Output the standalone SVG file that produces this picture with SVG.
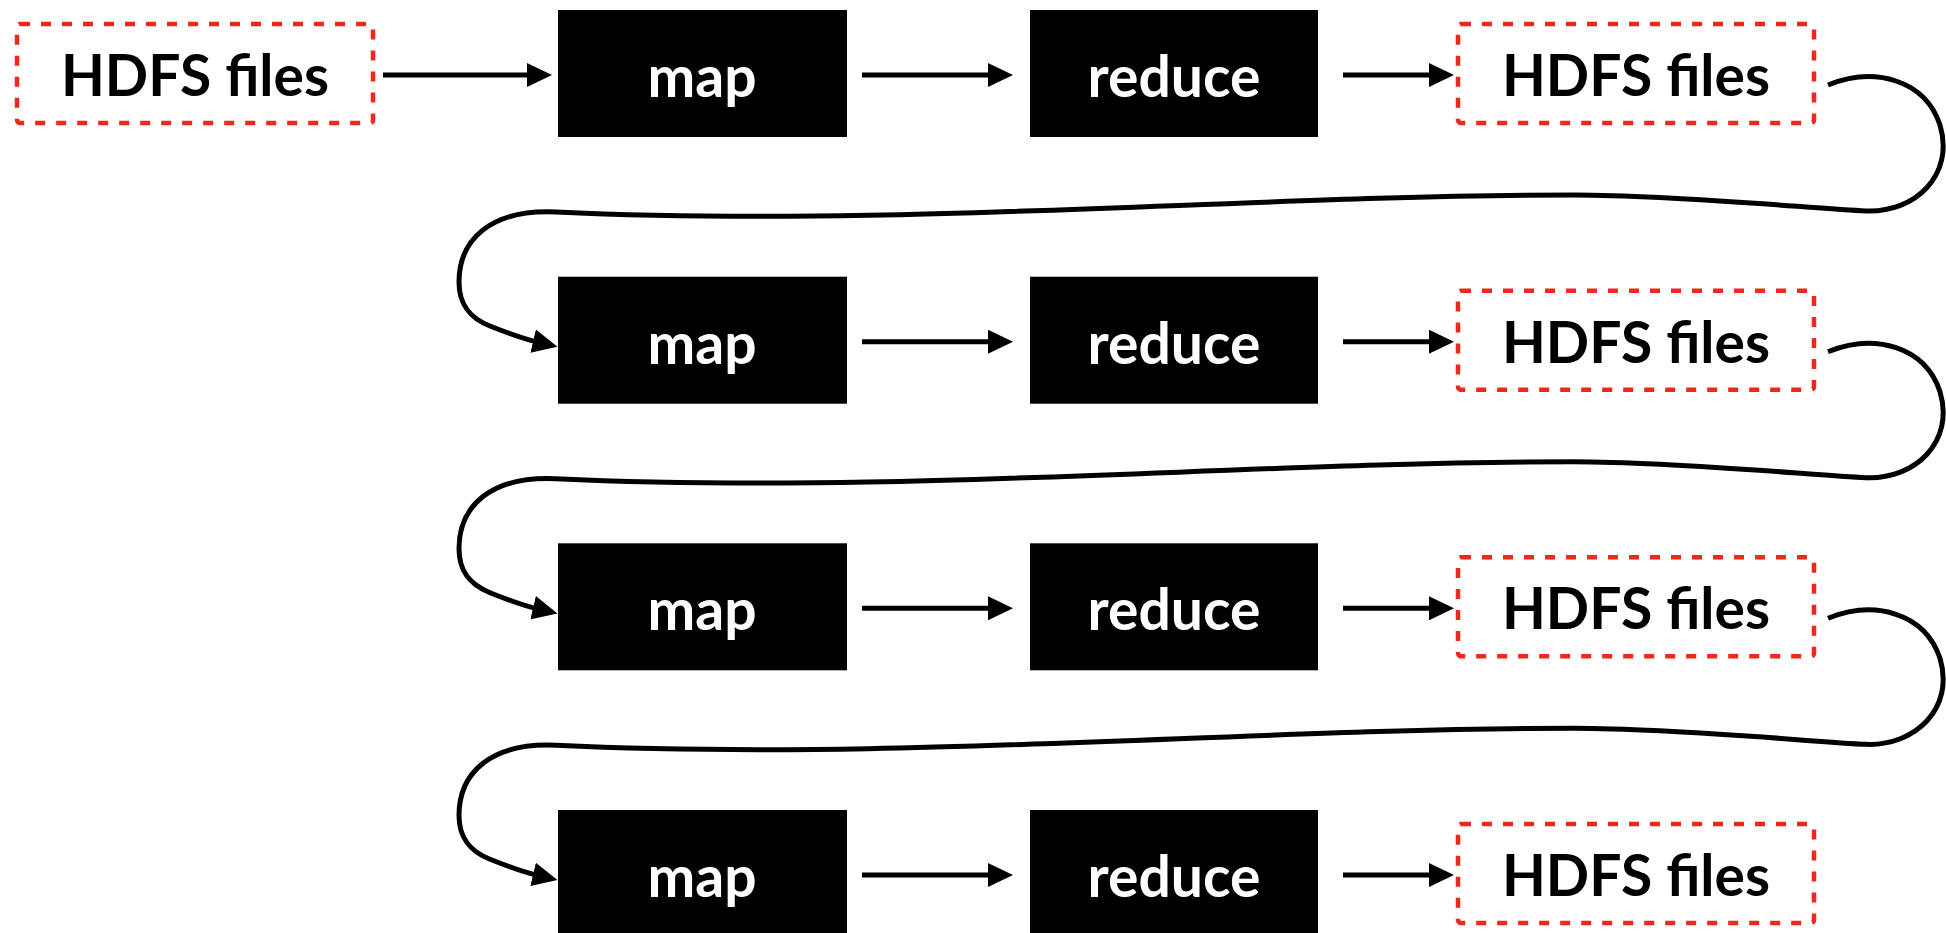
<svg xmlns="http://www.w3.org/2000/svg" width="1946" height="933" viewBox="0 0 1946 933">
<style>
.hdfs{fill:none;stroke:#f0271b;stroke-width:4.5;stroke-dasharray:10 11}
.blk{fill:#000}
.t{font-family:Lato,"Open Sans","Liberation Sans",sans-serif;font-weight:bold;font-size:57px;text-anchor:middle}
.tw{fill:#fff}
.tb{fill:#000}
.c{fill:none;stroke:#000;stroke-width:5;marker-end:url(#ah)}
</style>
<defs>
<marker id="ah" markerUnits="userSpaceOnUse" viewBox="0 0 25 24" markerWidth="25" markerHeight="24" refX="4" refY="12" orient="auto">
<path d="M0,0 L25,12 L0,24 Z" fill="#000"/>
</marker>
<path id="loop" class="c" d="M1828,85 C1875,66 1925,80 1940,125 C1955,175 1915,213 1866,211 C1817,209 1680,195 1574,195 C1250,195 900,228 556,212 C490,209 459,240 459,282 C459,305 470,318 490,326 C505,332 520,338 537,342"/>
</defs>
<rect width="1946" height="933" fill="#fff"/>
<g id="hdfs0"><rect class="hdfs" x="17" y="24" width="356" height="99" rx="3"/><text class="t tb" x="195" y="96">HDFS files</text></g>
<g id="map1"><rect class="blk" x="558" y="10" width="289" height="127"/><text class="t tw" x="702" y="97">map</text></g>
<g id="reduce1"><rect class="blk" x="1030" y="10" width="288" height="127"/><text class="t tw" x="1174" y="97">reduce</text></g>
<g id="hdfs1"><rect class="hdfs" x="1458" y="24" width="356" height="99" rx="3"/><text class="t tb" x="1636" y="96">HDFS files</text></g>

<g id="map2"><rect class="blk" x="558" y="276.7" width="289" height="127"/><text class="t tw" x="702" y="363.7">map</text></g>
<g id="reduce2"><rect class="blk" x="1030" y="276.7" width="288" height="127"/><text class="t tw" x="1174" y="363.7">reduce</text></g>
<g id="hdfs2"><rect class="hdfs" x="1458" y="290.7" width="356" height="99" rx="3"/><text class="t tb" x="1636" y="362.7">HDFS files</text></g>

<g id="map3"><rect class="blk" x="558" y="543.3" width="289" height="127"/><text class="t tw" x="702" y="630.3">map</text></g>
<g id="reduce3"><rect class="blk" x="1030" y="543.3" width="288" height="127"/><text class="t tw" x="1174" y="630.3">reduce</text></g>
<g id="hdfs3"><rect class="hdfs" x="1458" y="557.3" width="356" height="99" rx="3"/><text class="t tb" x="1636" y="629.3">HDFS files</text></g>

<g id="map4"><rect class="blk" x="558" y="810" width="289" height="127"/><text class="t tw" x="702" y="897">map</text></g>
<g id="reduce4"><rect class="blk" x="1030" y="810" width="288" height="127"/><text class="t tw" x="1174" y="897">reduce</text></g>
<g id="hdfs4"><rect class="hdfs" x="1458" y="824" width="356" height="99" rx="3"/><text class="t tb" x="1636" y="896">HDFS files</text></g>

<g id="connectors">
<path class="c" d="M383,75 H531"/>
<path class="c" d="M862,75 H992"/>
<path class="c" d="M1343,75 H1433"/>
<path class="c" d="M862,341.7 H992"/>
<path class="c" d="M1343,341.7 H1433"/>
<path class="c" d="M862,608.3 H992"/>
<path class="c" d="M1343,608.3 H1433"/>
<path class="c" d="M862,875 H992"/>
<path class="c" d="M1343,875 H1433"/>
<use href="#loop"/>
<use href="#loop" transform="translate(0,266.7)"/>
<use href="#loop" transform="translate(0,533.3)"/>
</g>
</svg>
